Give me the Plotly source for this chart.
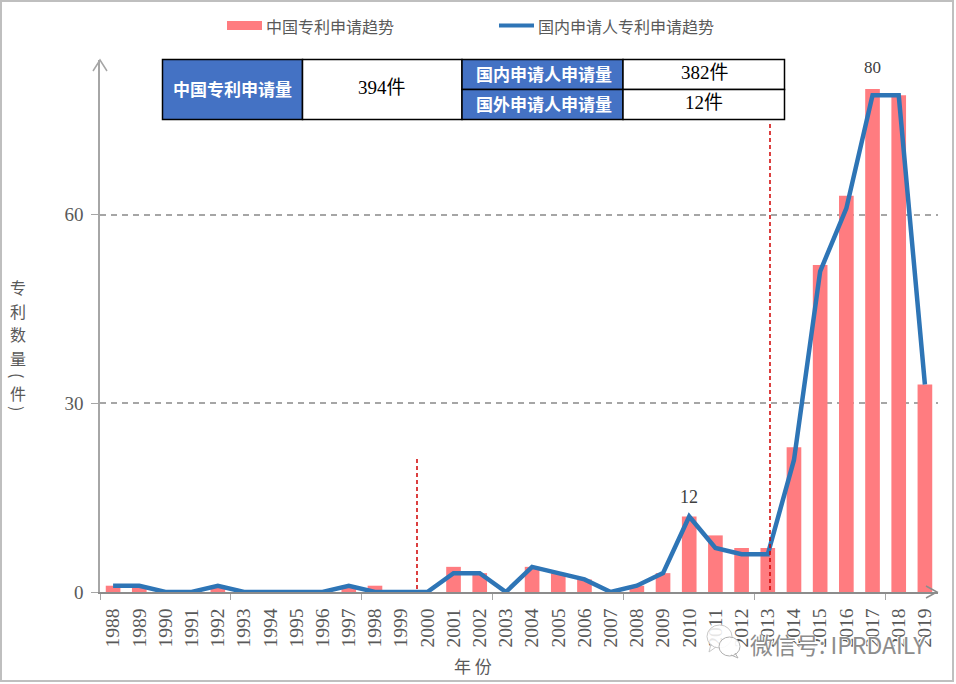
import plotly.graph_objects as go

#  Values
years = list(range(1988, 2020))
cn_total = [1, 1, 0, 0, 1, 0, 0, 0, 0, 1, 1, 0, 0, 4, 3, 0, 4, 3, 2, 0, 1, 3, 12, 9, 7, 7, 23, 52, 63, 80, 79, 33]
domestic = [1, 1, 0, 0, 1, 0, 0, 0, 0, 1, 0, 0, 0, 3, 3, 0, 4, 3, 2, 0, 1, 3, 12, 7, 6, 6, 21, 51, 61, 79, 79, 33]
y_ticks = [0, 30, 60]
label_years = [2010, 2017]
label_vals = [12, 80]

WIDTH, HEIGHT = 956, 684
L, R, T, B = 100, 938, 60, 592
SERIF = 'Liberation Serif, Noto Sans CJK SC'
SANS = 'Noto Sans CJK SC'
GREY = '#595959'
AXIS = '#a6a6a6'


def px(x):
    return (x - L) / (R - L)


def py(y):
    return (B - y) / (B - T)


def rect(x0, y0, x1, y1, fill, line='black', width=1.5, kind='rect'):
    return dict(type=kind, xref='paper', yref='paper', x0=px(x0), x1=px(x1), y0=py(y0), y1=py(y1),
                fillcolor=fill, line=dict(color=line, width=width), layer='above')


def seg(pts, color, width=1.5, dash='solid'):
    path = 'M ' + ' L '.join(f'{px(a):.5f} {py(b):.5f}' for a, b in pts)
    return dict(type='path', xref='paper', yref='paper', path=path, line=dict(color=color, width=width, dash=dash),
                layer='above')


def note(x, y, text, size, color=GREY, family=SANS, **kw):
    font = dict(size=size, color=color, family=family)
    font.update(kw.pop('font_extra', {}))
    return dict(xref='paper', yref='paper', x=px(x), y=py(y), text=text, showarrow=False,
                font=font, xanchor='center', yanchor='middle', **kw)


fig = go.Figure()

fig.add_trace(go.Bar(x=years, y=cn_total, width=0.56, marker_color='#ff7c80', marker_line_width=0,
                     name='中国专利申请趋势', showlegend=False))
fig.add_trace(go.Scatter(x=years, y=domestic, mode='lines', line=dict(color='#2e75b6', width=4.5),
                         name='国内申请人专利申请趋势', showlegend=False, cliponaxis=False))

shapes = [
    #  Outer frame
    rect(1, 1, 953, 681, 'rgba(0,0,0,0)', '#bfbfbf', 2),
    #  Legend swatches
    rect(227, 21, 262, 30, '#ff7c80', '#ff7c80', 0),
    seg([(499, 25.5), (534, 25.5)], '#2e75b6', 4),
    #  Axis arrows
    seg([(93, 71), (100, 60), (107, 71)], AXIS, 1.5),
    seg([(926, 586), (937, 592), (926, 598)], '#8c8c8c', 1.5),
    #  Period markers
    seg([(417, 459), (417, 592)], '#d00000', 1.5, '4px,3px'),
    seg([(770, 124), (770, 592)], '#d00000', 1.5, '4px,3px'),
    #  Summary table
    rect(162.5, 59.5, 302.5, 119.5, '#4472c4'),
    rect(302.5, 59.5, 462, 119.5, 'white'),
    rect(462, 59.5, 623, 89.5, '#4472c4'),
    rect(462, 89.5, 623, 119.5, '#4472c4'),
    rect(623, 59.5, 784.5, 89.5, 'white'),
    rect(623, 89.5, 784.5, 119.5, 'white'),
    #  Watermark icon
    rect(707, 625, 732, 648, 'rgba(255,255,255,0.85)', '#c8c8c8', 1, 'circle'),
    seg([(711, 644), (709, 652), (716, 647)], '#c8c8c8', 1),
    rect(719, 637, 740, 656, 'rgba(255,255,255,0.9)', '#b0b0b0', 1, 'circle'),
    seg([(735, 653), (738, 658), (731, 655)], '#b0b0b0', 1),
]

annotations = [
    note(330, 26, '中国专利申请趋势', 16),
    note(626, 26, '国内申请人专利申请趋势', 16),
    note(232, 88, '<b>中国专利申请量</b>', 17, 'white'),
    note(382, 87, '394件', 19, 'black', SERIF),
    note(543.5, 73, '<b>国内申请人申请量</b>', 17, 'white'),
    note(543.5, 103, '<b>国外申请人申请量</b>', 17, 'white'),
    note(705, 72, '382件', 19, 'black', SERIF),
    note(704, 102, '12件', 19, 'black', SERIF),
    note(473, 665, '年 份', 17),
    note(838, 644, '微信号: IPRDAILY', 23, '#8c8c8c', SANS,
         font_extra=dict(shadow='1px 1px 0 #ffffff, -1px -1px 0 #ffffff')),
]

#  Vertical axis title, one character at a time
for ch, ypos in zip('专利数量件', [287, 310.5, 334, 357.5, 393]):
    annotations.append(note(18, ypos, ch, 16))
annotations.append(note(18, 375, '(', 16, textangle=90))
annotations.append(note(18, 408, ')', 16, textangle=90))

for yr, val in zip(label_years, label_vals):
    annotations.append(dict(x=yr, y=val, text=str(val), showarrow=False, yshift=21 if val == 80 else 20,
                            font=dict(size=18 if val == 12 else 17, color='#404040', family=SERIF)))

fig.update_layout(
    width=WIDTH,
    height=HEIGHT,
    autosize=False,
    margin=dict(l=L, r=WIDTH - R, t=T, b=HEIGHT - B, pad=0),
    paper_bgcolor='white',
    plot_bgcolor='white',
    font=dict(family=SANS, color=GREY),
    shapes=shapes,
    annotations=annotations,
    xaxis=dict(
        range=[1987.5, 2019.5],
        tickmode='array',
        tickvals=years,
        ticktext=[str(y) for y in years],
        tickangle=-90,
        ticks='',
        ticklabelstandoff=7,
        tickfont=dict(size=19.5, family=SERIF, color=GREY),
        showgrid=False,
        showline=True,
        linecolor='#8c8c8c',
        linewidth=1.5,
        zeroline=False,
        minor=dict(tickmode='array', tickvals=[1987.5 + 5 * i for i in range(7)], ticks='outside', ticklen=6,
                   tickcolor=AXIS, showgrid=False),
    ),
    yaxis=dict(
        range=[0, 84.6],
        tickmode='array',
        tickvals=y_ticks,
        ticks='outside',
        ticklen=7,
        tickcolor=AXIS,
        ticklabelstandoff=4,
        tickfont=dict(size=19, family=SERIF, color=GREY),
        showgrid=True,
        gridcolor=AXIS,
        griddash='6px,5px',
        gridwidth=1.5,
        showline=True,
        linecolor=AXIS,
        linewidth=1.5,
        zeroline=False,
    ),
)

#  Page body default margin would push the chart 8px off the window
fig.write_html("out.html", config=dict(displayModeBar=False), post_script="document.body.style.margin='0';")
